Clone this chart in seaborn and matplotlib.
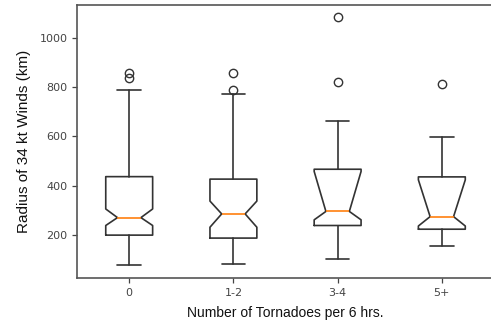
import matplotlib
matplotlib.use("Agg")
import matplotlib.pyplot as plt
import seaborn as sns

# values (km)
categories = ["0", "1-2", "3-4", "5+"]
whisker_low = [77, 83, 104, 154]
q1 = [200, 188, 239, 224]
median = [271, 286, 296, 275]
q3 = [437, 427, 467, 436]
whisker_high = [788, 771, 664, 599]
notch_low = [239, 232, 262, 237]
notch_high = [306, 338, 458, 424]
outliers = [[838, 858], [787, 858], [822, 1083], [813]]

sns.set_theme(style="white")
plt.rcParams["font.family"] = ["DejaVu Sans"]

stats = []
for i, cat in enumerate(categories):
    stats.append(dict(label=cat, whislo=whisker_low[i], q1=q1[i], med=median[i],
                      q3=q3[i], whishi=whisker_high[i], cilo=notch_low[i],
                      cihi=notch_high[i], fliers=outliers[i]))

fig = plt.figure(figsize=(4.91, 3.22), dpi=100)
ax = fig.add_axes([0.157, 0.137, 0.849, 0.848])

line_col = "#333333"
ax.bxp(stats, shownotches=True,
       boxprops=dict(color=line_col, linewidth=1.2),
       whiskerprops=dict(color=line_col, linewidth=1.2),
       capprops=dict(color=line_col, linewidth=1.2),
       medianprops=dict(color="#ff7f0e", linewidth=1.2),
       flierprops=dict(marker="o", markerfacecolor="none", markeredgecolor=line_col,
                       markersize=6))

ax.set_xlim(0.5, 4.5)
ax.set_yticks([200, 400, 600, 800, 1000])
for s in ax.spines.values():
    s.set_color("#555555")
    s.set_linewidth(1.2)
ax.tick_params(axis="both", labelsize=8, colors="#444444", length=3.5, width=0.9,
               left=True, bottom=True)
ax.set_ylabel("Radius of 34 kt Winds (km)", fontsize=11, family="Liberation Sans",
              color="#111111", labelpad=6)
ax.set_xlabel("Number of Tornadoes per 6 hrs.", fontsize=10, family="Liberation Sans",
              color="#111111", labelpad=6)

fig.savefig("out.png", dpi=100)
